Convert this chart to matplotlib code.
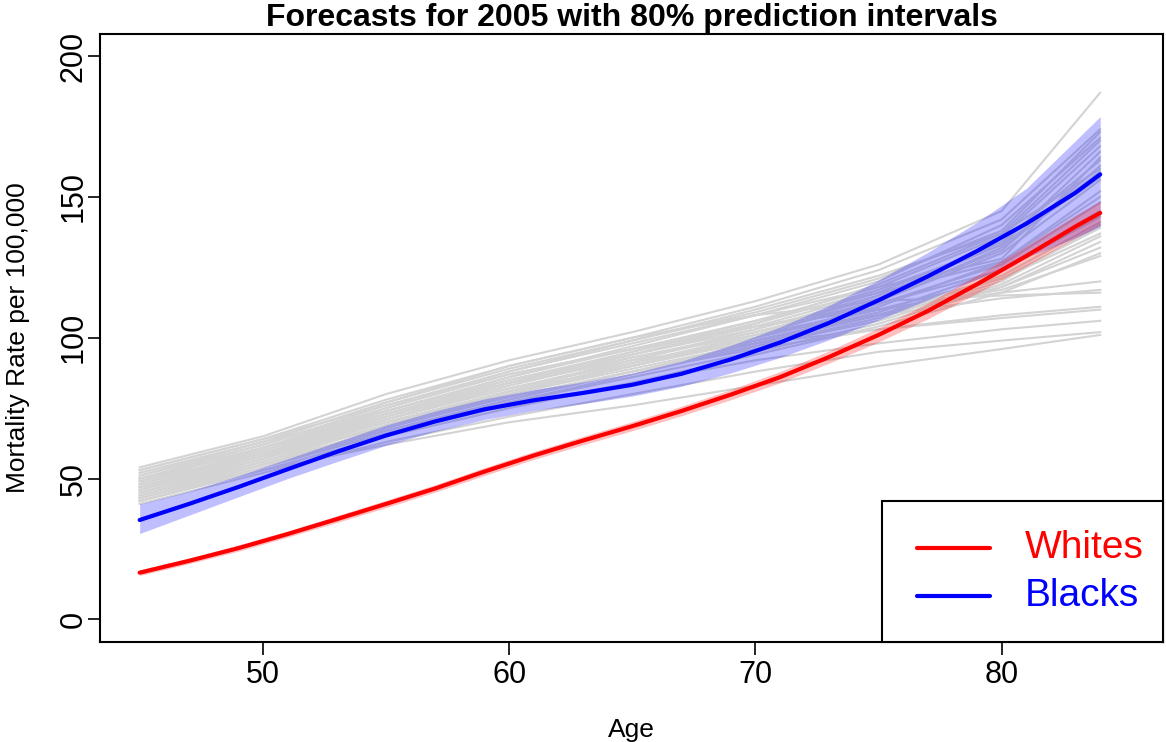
import matplotlib
matplotlib.use("Agg")
import matplotlib.pyplot as plt
from matplotlib.patches import Rectangle

plt.rcParams['font.family'] = ['Liberation Sans', 'DejaVu Sans']

# ---------------- data ----------------
ages = [45, 47, 49, 51, 53, 55, 57, 59, 61, 63, 65, 67, 69, 71, 73, 75, 77, 79, 81, 83, 84]

whites = [16.6, 20.8, 25.3, 30.3, 35.6, 41.0, 46.5, 52.5, 58.2, 63.5, 68.6, 74.0, 79.8, 86.0, 93.2,
          101.0, 109.5, 119.0, 129.0, 139.5, 144.3]
whites_lo = [15.6, 19.8, 24.2, 29.2, 34.4, 39.7, 45.2, 51.1, 56.8, 62.0, 67.0, 72.3, 78.0, 84.0, 91.0,
             98.5, 106.7, 115.8, 125.4, 135.5, 140.0]
whites_hi = [17.6, 21.8, 26.4, 31.4, 36.8, 42.3, 47.8, 53.9, 59.6, 65.0, 70.2, 75.7, 81.6, 88.0, 95.4,
             103.5, 112.3, 122.2, 132.6, 143.5, 148.6]

blacks = [35.3, 41.0, 47.0, 53.3, 59.5, 65.3, 70.3, 74.6, 77.8, 80.4, 83.3, 87.2, 92.3, 98.3, 105.3,
          113.3, 121.8, 130.8, 140.5, 151.5, 158.0]
blacks_lo = [30.5, 37.0, 43.5, 50.0, 56.0, 61.8, 66.8, 71.0, 74.2, 76.6, 79.3, 82.8, 87.5, 93.0, 99.3,
             106.3, 113.5, 120.8, 128.5, 135.5, 139.5]
blacks_hi = [41.0, 45.5, 51.0, 57.0, 63.0, 69.0, 74.0, 78.3, 81.6, 84.3, 87.4, 91.7, 97.3, 103.8, 111.5,
             120.5, 130.3, 141.0, 153.0, 170.0, 178.5]

gray_ages = [45, 50, 55, 60, 65, 70, 75, 80, 84]
gray_series = [
    [54, 65, 80, 92, 102, 113, 126, 145, 187],
    [53, 64, 78, 90, 100, 111, 124, 142, 174],
    [52, 63, 77, 89, 99, 109, 121, 138, 173],
    [51, 62, 76, 88, 98, 108, 120, 140, 171],
    [50, 62, 75, 87, 96, 106, 118, 136, 168],
    [52, 63, 74, 85, 95, 105, 117, 133, 166],
    [49, 61, 74, 86, 97, 108, 118, 128, 164],
    [48, 60, 73, 85, 94, 103, 114, 131, 161],
    [50, 60, 72, 83, 93, 102, 113, 130, 156],
    [47, 59, 72, 84, 95, 106, 116, 127, 152],
    [46, 58, 71, 82, 91, 100, 111, 127, 150],
    [49, 59, 70, 81, 90, 99, 109, 124, 145],
    [45, 57, 70, 80, 89, 98, 108, 122, 141],
    [44, 56, 69, 80, 90, 100, 110, 121, 139],
    [47, 58, 68, 79, 88, 97, 106, 119, 136],
    [43, 55, 67, 78, 88, 98, 108, 118, 132],
    [42, 54, 68, 80, 91, 101, 110, 117, 129],
    [48, 60, 74, 86, 96, 104, 110, 116, 120],
    [46, 58, 72, 84, 93, 101, 108, 114, 117],
    [51, 63, 77, 90, 100, 108, 113, 115, 116],
    [44, 56, 69, 79, 88, 96, 103, 108, 111],
    [47, 59, 73, 84, 92, 98, 103, 107, 110],
    [43, 55, 66, 76, 84, 92, 98, 103, 106],
    [41, 52, 63, 72, 80, 88, 95, 99, 102],
    [42, 53, 62, 70, 76, 83, 90, 96, 101],
    [45, 57, 71, 83, 94, 105, 119, 137, 170],
    [50, 61, 73, 84, 94, 104, 116, 134, 163],
    [44, 55, 68, 80, 90, 101, 113, 132, 159],
    [46, 57, 69, 81, 92, 103, 115, 133, 157],
    [48, 59, 71, 82, 92, 102, 112, 126, 148],
    [53, 64, 76, 87, 96, 104, 112, 124, 143],
    [43, 54, 66, 77, 87, 97, 107, 120, 140],
    [45, 56, 67, 77, 86, 95, 105, 118, 134],
    [49, 61, 75, 88, 99, 110, 122, 137, 160],
    [42, 53, 65, 75, 84, 94, 104, 116, 130],
    [47, 58, 70, 81, 90, 99, 108, 121, 137],
]

x_ticks = [50, 60, 70, 80]
y_ticks = [0, 50, 100, 150, 200]
title = "Forecasts for 2005 with 80% prediction intervals"
series_labels = ["Whites", "Blacks"]
series_colors = ['#FF0000', '#0000FF']

# ---------------- figure ----------------
W, H = 1166, 742
AX_L, AX_R, AX_T, AX_B = 100, 1163, 33.5, 642
fig = plt.figure(figsize=(W / 100, H / 100), dpi=100)
ax = fig.add_axes([AX_L / W, (H - AX_B) / H, (AX_R - AX_L) / W, (AX_B - AX_T) / H])

for s in gray_series:
    ax.plot(gray_ages, s, color='#D3D3D3', lw=1.5, zorder=1)

ax.fill_between(ages, blacks_lo, blacks_hi, color='#0000FF', alpha=0.25, lw=0, zorder=2)
ax.fill_between(ages, whites_lo, whites_hi, color='#FF0000', alpha=0.25, lw=0, zorder=2)

ax.plot(ages, whites, color=series_colors[0], lw=3, zorder=3, solid_capstyle='round')
ax.plot(ages, blacks, color=series_colors[1], lw=3, zorder=3, solid_capstyle='round')

ax.set_xlim(43.39, 86.55)
ax.set_ylim(-8, 208)
ax.set_xticks(x_ticks)
ax.set_yticks(y_ticks)
ax.set_yticklabels([str(v) for v in y_ticks], rotation=90, va='center')
ax.tick_params(axis='both', direction='out', length=9, width=1.2, labelsize=22, colors='black')
ax.tick_params(axis='x', pad=4)
ax.tick_params(axis='y', pad=-1)
for sp in ax.spines.values():
    sp.set_linewidth(1.5)

ax.set_xlabel("Age", fontsize=19, va='center')
ax.xaxis.set_label_coords(0.5, (AX_B - 730) / (AX_B - AX_T))
ax.set_ylabel("Mortality Rate per 100,000", fontsize=19, va='center')
ax.yaxis.set_label_coords((18 - AX_L) / (AX_R - AX_L), 0.5)
fig.text(632 / W, 1 - 18 / H, title, ha='center', va='center',
         fontsize=23, fontweight='bold')

# ---- legend (R-style box in the bottom-right corner) ----
def axx(px):
    return (px - AX_L) / (AX_R - AX_L)

def axy(py):
    return (AX_B - py) / (AX_B - AX_T)

ax.add_patch(Rectangle((axx(882), 0), 1 - axx(882), axy(500.5), transform=ax.transAxes,
                       facecolor='white', edgecolor='black', lw=1.5, zorder=5, clip_on=False))
for lab, col, py in zip(series_labels, series_colors, [548, 596]):
    ax.plot([axx(917), axx(990)], [axy(py), axy(py)], transform=ax.transAxes,
            color=col, lw=3, zorder=6, solid_capstyle='round', clip_on=False)
    ax.text(axx(1025), axy(py), lab, transform=ax.transAxes, color=col, fontsize=28,
            ha='left', va='center', zorder=6)

fig.savefig("out.png", dpi=100)
